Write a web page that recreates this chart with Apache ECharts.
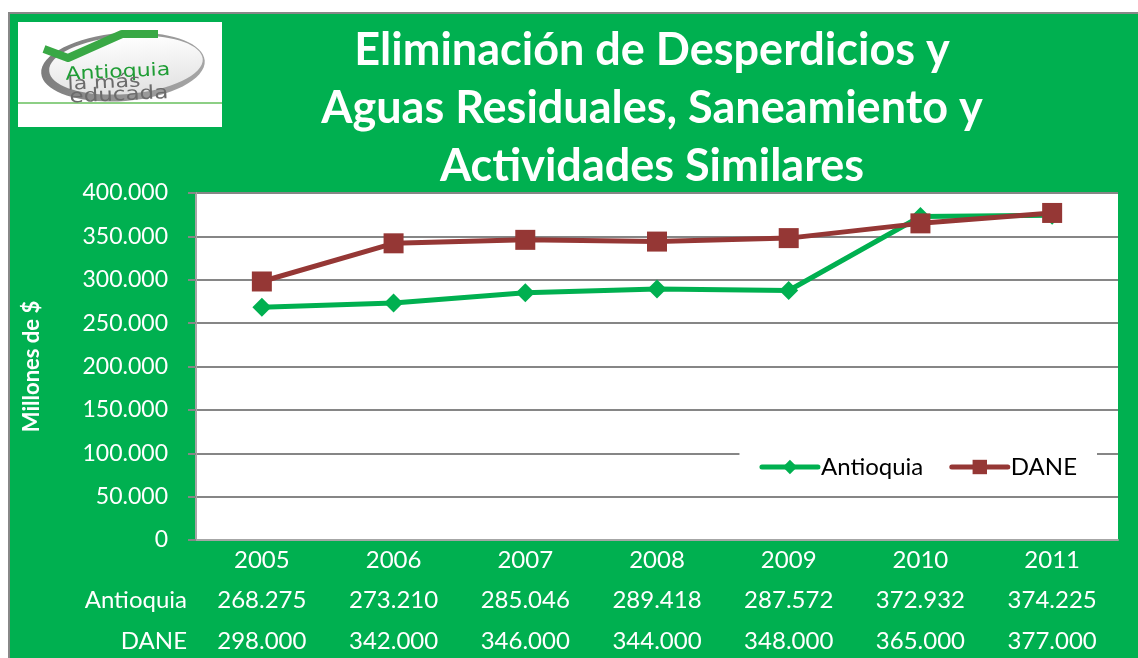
<!DOCTYPE html>
<html>
<head>
<meta charset="utf-8">
<script src="https://cdn.jsdelivr.net/npm/echarts@6/dist/echarts.min.js"></script>
<style>
  html, body { margin: 0; padding: 0; background: #fff; }
  #chart {
    position: absolute; left: 8px; top: 12px;
    width: 1128px; height: 644px;
    border-left: 2px solid #888; border-top: 2px solid #888;
  }
</style>
</head>
<body>
<div id="chart"></div>
<script>
// datos
var years = ['2005', '2006', '2007', '2008', '2009', '2010', '2011'];
var antioquia = [268275, 273210, 285046, 289418, 287572, 372932, 374225];
var dane = [298000, 342000, 346000, 344000, 348000, 365000, 377000];
var seriesNames = ['Antioquia', 'DANE'];
var titleLines = ['Eliminación de Desperdicios y', 'Aguas Residuales, Saneamiento y', 'Actividades Similares'];

var verde = '#00B050';
var rojo = '#953735';
var FONT = 'Lato';
var LOGO_FONT = 'DejaVu Sans';

// 268275 -> "268.275"
function fmt(v) {
    return String(v).replace(/\B(?=(\d{3})+(?!\d))/g, '.');
}

var myChart = echarts.init(document.getElementById('chart'));

// eje de la tabla de datos debajo del grafico
function tableAxis(name, values, offset) {
    return {
        type: 'category',
        position: 'bottom',
        offset: offset,
        data: values.map(fmt),
        name: name,
        nameLocation: 'start',
        nameGap: 9,
        nameTextStyle: {
            color: '#fff', fontFamily: FONT, fontSize: 24,
            align: 'right', verticalAlign: 'top', padding: [7, 0, 0, 0]
        },
        axisLine: { show: false },
        axisTick: { show: false },
        splitLine: { show: false },
        axisLabel: { color: '#fff', fontFamily: FONT, fontSize: 24, margin: 7, interval: 0 }
    };
}

// texto del logo (y = borde inferior del texto)
function logoText(txt, x, y, size, color) {
    return {
        type: 'text', x: x, y: y, rotation: 0.045, scaleY: 0.82,
        style: { text: txt, font: size + 'px ' + LOGO_FONT, fill: color, verticalAlign: 'bottom' }
    };
}

var option = {
    backgroundColor: verde,
    animation: false,
    graphic: [
        // titulo
        {
            type: 'text', x: 642, y: 7,
            style: {
                text: titleLines.join('\n'),
                textAlign: 'center',
                fill: '#fff', font: 'bold 45px ' + FONT, lineHeight: 58
            }
        },
        // logo
        {
            type: 'group', x: 8, y: 8,
            children: [
                { type: 'rect', shape: { x: 0, y: 0, width: 204, height: 105 }, style: { fill: '#fff' } },
                { type: 'line', shape: { x1: 0, y1: 81, x2: 204, y2: 81 }, style: { stroke: '#8dcf85', lineWidth: 2 } },
                // aro gris
                { type: 'ellipse', shape: { cx: 105, cy: 45, rx: 82, ry: 34 }, rotation: 0.08, originX: 105, originY: 45,
                  style: {
                      fill: new echarts.graphic.LinearGradient(0, 0, 1, 1, [
                          { offset: 0, color: '#7a7a7a' }, { offset: 1, color: '#a8a8a8' }
                      ])
                  } },
                { type: 'ellipse', shape: { cx: 108, cy: 43, rx: 77, ry: 29 }, rotation: 0.08, originX: 108, originY: 43,
                  style: {
                      fill: new echarts.graphic.LinearGradient(0, 0, 0, 1, [
                          { offset: 0, color: '#ffffff' }, { offset: 1, color: '#e2e2e2' }
                      ])
                  } },
                // chulo verde
                { type: 'polyline', shape: { points: [[26, 27], [50, 36], [104, 12], [140, 12]] },
                  style: { stroke: '#39a845', lineWidth: 8, fill: null, lineJoin: 'round' } },
                logoText('Antioquia', 48, 62, 22, '#1f9d35'),
                logoText('la más', 50, 72, 22, '#6b6b6b'),
                logoText('educada', 52, 85, 23, '#6b6b6b')
            ]
        }
    ],
    legend: {
        data: seriesNames,
        right: 41, top: 433,
        backgroundColor: '#fff',
        padding: [8, 20, 8, 20],
        itemWidth: 56, itemHeight: 18, itemGap: 26,
        lineStyle: { width: 5, cap: 'round' },
        textStyle: { color: '#000', fontFamily: FONT, fontSize: 24, padding: [0, 0, 0, -2] }
    },
    grid: {
        left: 186, right: 20, top: 179, bottom: 118,
        show: true, backgroundColor: '#fff', borderWidth: 0
    },
    xAxis: [
        {
            type: 'category',
            data: years,
            boundaryGap: true,
            axisLine: { lineStyle: { color: '#a6a6a6', width: 2 } },
            axisTick: { show: false },
            axisLabel: { color: '#fff', fontFamily: FONT, fontSize: 24, margin: 8 }
        },
        tableAxis(seriesNames[0], antioquia, 41),
        tableAxis(seriesNames[1], dane, 82)
    ],
    yAxis: {
        type: 'value',
        min: 0, max: 400000, interval: 50000,
        name: 'Millones de $',
        nameLocation: 'middle',
        nameRotate: 90,
        nameGap: 153,
        nameTextStyle: { color: '#fff', fontFamily: FONT, fontSize: 22, fontWeight: 'bold' },
        axisLine: { show: true, lineStyle: { color: '#a6a6a6', width: 2 } },
        axisTick: { show: true, length: 8, lineStyle: { color: '#868686', width: 2 } },
        splitLine: { lineStyle: { color: '#868686', width: 2 } },
        axisLabel: { color: '#fff', fontFamily: FONT, fontSize: 23, margin: 28, formatter: fmt }
    },
    series: [
        {
            name: seriesNames[0],
            type: 'line',
            data: antioquia,
            symbol: 'diamond',
            symbolSize: 19,
            lineStyle: { color: verde, width: 5 },
            itemStyle: { color: verde }
        },
        {
            name: seriesNames[1],
            type: 'line',
            data: dane,
            symbol: 'rect',
            symbolSize: 20,
            lineStyle: { color: rojo, width: 5 },
            itemStyle: { color: rojo }
        }
    ]
};

option && myChart.setOption(option);
</script>
</body>
</html>
